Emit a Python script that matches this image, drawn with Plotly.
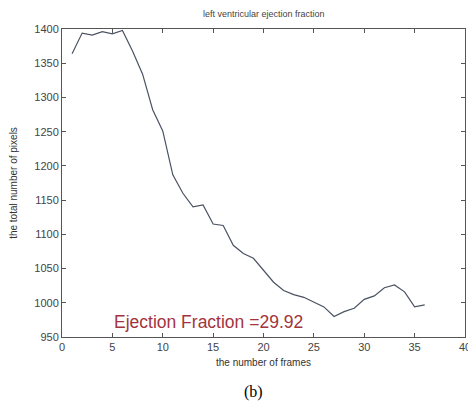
import plotly.graph_objects as go

frames = list(range(1, 37))
pixels = [1364, 1394, 1391, 1396, 1393, 1398, 1368, 1334, 1282, 1251,
          1187, 1160, 1140, 1143, 1115, 1113, 1084, 1072, 1065, 1048,
          1030, 1018, 1012, 1008, 1001, 994, 980, 987, 992, 1005,
          1010, 1022, 1026, 1016, 994, 997]
x_ticks = [0, 5, 10, 15, 20, 25, 30, 35, 40]
y_ticks = [950, 1000, 1050, 1100, 1150, 1200, 1250, 1300, 1350, 1400]

fig = go.Figure()
fig.add_trace(go.Scatter(x=frames, y=pixels, mode="lines",
                         line=dict(color="#4a5262", width=1.2), showlegend=False))

axis_common = dict(showgrid=False, zeroline=False, showline=True, mirror="ticks",
                   linecolor="#555555", linewidth=1, ticks="inside", ticklen=4,
                   tickcolor="#555555", ticklabeloverflow="allow", automargin=False,
                   tickfont=dict(family="Liberation Sans, Arial", size=11, color="#444444"))
fig.update_xaxes(range=[0, 40], tickvals=x_ticks, **axis_common,
                 title=dict(text="the number of frames", standoff=6,
                            font=dict(family="Liberation Sans, Arial", size=10, color="#333333")))
fig.update_yaxes(range=[950, 1400], tickvals=y_ticks, **axis_common,
                 title=dict(text="the total number of pixels", standoff=14,
                            font=dict(family="Liberation Sans, Arial", size=10, color="#333333")))

fig.add_annotation(x=5.0, y=972, xref="x", yref="y", xanchor="left", yanchor="middle",
                   text="Ejection Fraction =29.92", showarrow=False,
                   font=dict(family="Liberation Sans, Arial", size=17.5, color="#a3343c"))
fig.add_annotation(x=0.5, y=1.0, xref="paper", yref="paper", yshift=8, yanchor="bottom",
                   text="left ventricular ejection fraction", showarrow=False,
                   font=dict(family="Liberation Sans, Arial", size=9, color="#444444"))
fig.add_annotation(x=0.475, y=0, xref="paper", yref="paper", yshift=-44, yanchor="top",
                   text="(b)", showarrow=False,
                   font=dict(family="Liberation Serif, Times New Roman", size=16, color="#000000"))

fig.update_layout(width=468, height=406, margin=dict(l=62, r=3, t=29, b=69),
                  plot_bgcolor="white", paper_bgcolor="white")
fig.write_html("out.html")
